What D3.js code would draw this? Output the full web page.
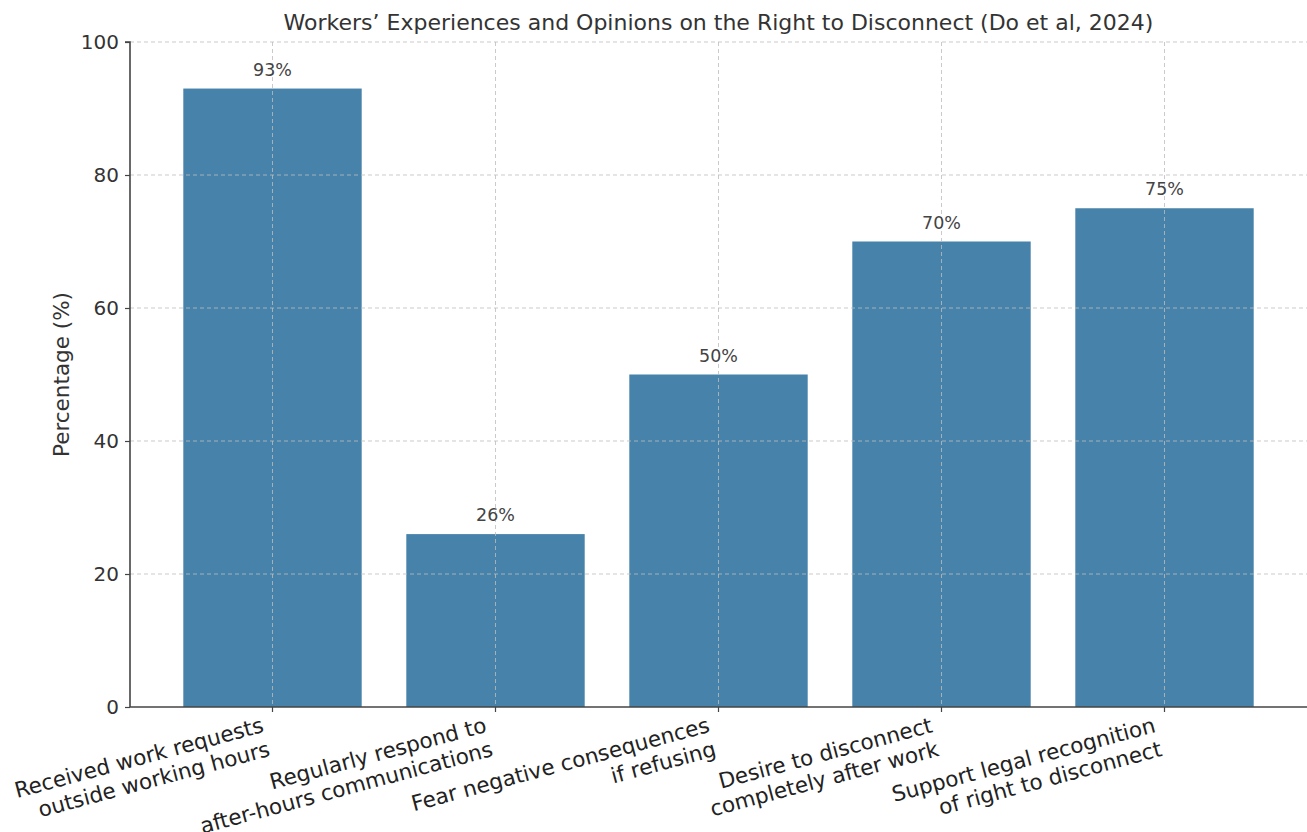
<!DOCTYPE html>
<html><head><meta charset="utf-8">
<script src="https://cdn.jsdelivr.net/npm/d3@7"></script>
<style>body{margin:0;background:#fff;} text{font-family:"DejaVu Sans",sans-serif;}</style>
</head><body>
<svg id="chart" width="1307" height="832"></svg>
<script>
const categories = [
  ["Received work requests","outside working hours"],
  ["Regularly respond to","after-hours communications"],
  ["Fear negative consequences","if refusing"],
  ["Desire to disconnect","completely after work"],
  ["Support legal recognition","of right to disconnect"]
];
const values = [93, 26, 50, 70, 75];
const yTicks = [0, 20, 40, 60, 80, 100];
const title = "Workers\u2019 Experiences and Opinions on the Right to Disconnect (Do et al, 2024)";
const yLabel = "Percentage (%)";

(function(){
const svg = d3.select("#chart");
const mLeft = 130, mRight = 1307, mTop = 42, mBottom = 707;
const keys = categories.map((c,i)=>i);
const step = 223;
const x = d3.scaleLinear().domain([0, 4]).range([272.5, 272.5 + 4*step]);
const barW = 0.8*step;
const y = d3.scaleLinear().domain([0, 100]).range([mBottom, mTop]);

// bars
svg.append("g").selectAll("rect").data(values).join("rect")
  .attr("x", (d,i)=>x(i)-barW/2).attr("width", barW)
  .attr("y", d=>y(d)).attr("height", d=>y(0)-y(d))
  .attr("fill", "#4682a9");

// grid (over bars)
const grid = svg.append("g").attr("stroke", "#bdbdbd").attr("stroke-opacity", 0.8)
  .attr("stroke-dasharray", "4,3").attr("stroke-width", 1);
grid.selectAll("line.h").data(yTicks.filter(t=>t>0)).join("line").attr("class","h")
  .attr("x1", mLeft).attr("x2", mRight).attr("y1", d=>y(d)).attr("y2", d=>y(d));
grid.selectAll("line.v").data(keys).join("line").attr("class","v")
  .attr("x1", d=>x(d)).attr("x2", d=>x(d)).attr("y1", mTop).attr("y2", mBottom);

// value labels
svg.append("g").selectAll("text").data(values).join("text")
  .attr("x", (d,i)=>x(i)).attr("y", d=>y(d)-13)
  .attr("text-anchor", "middle").attr("font-size", 17.5).attr("fill", "#444")
  .text(d=>d+"%");

// y axis
const yAxis = svg.append("g").attr("transform", `translate(${mLeft},0)`)
  .call(d3.axisLeft(y).tickValues(yTicks).tickSize(5).tickPadding(6));
yAxis.select(".domain").attr("stroke", "#444").attr("stroke-width", 1.6).attr("d", `M-5,${mTop}H0V${mBottom}`);
yAxis.selectAll(".tick line").attr("stroke", "#444").attr("stroke-width", 1.2);
yAxis.selectAll(".tick text").attr("font-size", 20).attr("fill", "#333").attr("font-family", "DejaVu Sans");

// x axis
svg.append("line").attr("x1", mLeft).attr("x2", mRight).attr("y1", mBottom).attr("y2", mBottom)
  .attr("stroke", "#444").attr("stroke-width", 1.6);
svg.append("g").selectAll("line").data(keys).join("line")
  .attr("x1", d=>x(d)).attr("x2", d=>x(d)).attr("y1", mBottom).attr("y2", mBottom+5)
  .attr("stroke", "#444").attr("stroke-width", 1.2);

// x tick labels rotated 15deg, right aligned
const fs = 21.5, lh = fs*1.15;
const ang = 15*Math.PI/180;
const H = 2*lh;
const xl = svg.append("g").selectAll("g").data(categories).join("g")
  .attr("transform", (d,i)=>`translate(${x(i)},${mBottom + 6 + H*Math.cos(ang)}) rotate(-15)`);
xl.each(function(d){
  const g = d3.select(this);
  d.forEach((line, j)=>{
    g.append("text").attr("x", 0).attr("y", -H + (j+1)*lh - 0.25*fs)
      .attr("text-anchor", "end").attr("font-size", fs).attr("fill", "#222").text(line);
  });
});

// y label
svg.append("text").attr("transform", `translate(69,${(mTop+mBottom)/2}) rotate(-90)`)
  .attr("text-anchor", "middle").attr("font-size", 21.5).attr("fill", "#333").text(yLabel);

// title
svg.append("text").attr("x", (mLeft+mRight)/2).attr("y", 30)
  .attr("text-anchor", "middle").attr("font-size", 22).attr("fill", "#333").text(title);
})();
</script>
</body></html>
